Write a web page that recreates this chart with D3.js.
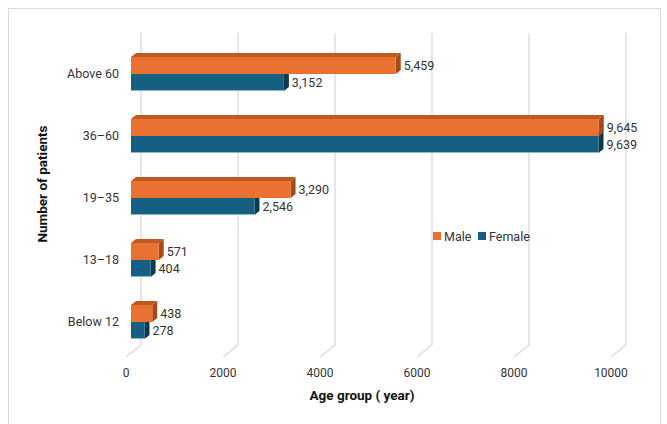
<!DOCTYPE html>
<html>
<head>
<meta charset="utf-8">
<script src="https://cdn.jsdelivr.net/npm/d3@7"></script>
<style>
  body { margin: 0; background: #fff; }
  text { font-family: Roboto, "Open Sans", sans-serif; }
</style>
</head>
<body>
<div id="chart"></div>
<script>
let categories = ["Above 60", "36–60", "19–35", "13–18", "Below 12"];
let male = [5459, 9645, 3290, 571, 438];
let female = [3152, 9639, 2546, 404, 278];
let xTicks = [0, 2000, 4000, 6000, 8000, 10000];

let width = 667,
  height = 424;

let svg = d3
  .select("#chart")
  .append("svg")
  .attr("width", width)
  .attr("height", height);

// chart area border
svg
  .append("rect")
  .attr("x", 8.5)
  .attr("y", 8.5)
  .attr("width", 652)
  .attr("height", 430)
  .attr("fill", "none")
  .attr("stroke", "#d9d9d9");

// back wall scale, floor depth offset
let xScale = d3.scaleLinear().domain([0, 10000]).range([141, 626]);
let depth = { dx: -15, dy: 12 };
let barShift = -10;
let yScale = d3.scaleBand().domain(categories).range([43, 353]);

let wallTop = 33,
  wallBottom = 345;

// gridlines
let grid = svg.append("g").attr("class", "grid");
xTicks.forEach((t) => {
  let x = xScale(t);
  grid
    .append("path")
    .attr(
      "d",
      "M" + x + "," + wallTop + "V" + wallBottom + "l" + depth.dx + "," + depth.dy
    )
    .attr("fill", "none")
    .attr("stroke", "#d9d9d9")
    .attr("stroke-width", 1.3);
});

// tick labels
svg
  .append("g")
  .selectAll("text")
  .data(xTicks)
  .join("text")
  .attr("x", (d) => xScale(d) + depth.dx)
  .attr("y", 377)
  .attr("text-anchor", "middle")
  .style("font-size", "12px")
  .style("fill", "#333")
  .text((d) => d);

// category labels
svg
  .append("g")
  .selectAll("text")
  .data(categories)
  .join("text")
  .attr("x", 119)
  .attr("y", (d) => yScale(d) + yScale.bandwidth() / 2 + 4)
  .attr("text-anchor", "end")
  .style("font-size", "12.5px")
  .style("fill", "#333")
  .text((d) => d);

let barH = 17,
  sx = 5,
  sy = 4;

function bar3d(g, x0, x1, y, fill, topFill, sideFill) {
  g.append("path")
    .attr("d", `M${x0},${y}L${x0 + sx},${y - sy}L${x1 + sx},${y - sy}L${x1},${y}Z`)
    .attr("fill", topFill);
  g.append("path")
    .attr(
      "d",
      `M${x1},${y}L${x1 + sx},${y - sy}L${x1 + sx},${y + barH - sy}L${x1},${y + barH}Z`
    )
    .attr("fill", sideFill);
  g.append("rect")
    .attr("x", x0)
    .attr("y", y)
    .attr("width", x1 - x0)
    .attr("height", barH)
    .attr("fill", fill);
}

let bars = svg.append("g");
let fmt = d3.format(",");

categories.forEach((c, i) => {
  let cy = yScale(c) + yScale.bandwidth() / 2;
  let x0 = xScale(0) + barShift;
  // female below, drawn first
  let xf = xScale(female[i]) + barShift;
  bar3d(bars, x0, xf, cy, "#156082", "#0f4a66", "#0b3a50");
  bars
    .append("line")
    .attr("x1", x0)
    .attr("x2", xf)
    .attr("y1", cy + barH - 0.5)
    .attr("y2", cy + barH - 0.5)
    .attr("stroke", "#8fb6c8")
    .attr("stroke-width", 1);
  let xm = xScale(male[i]) + barShift;
  bar3d(bars, x0, xm, cy - barH, "#E97132", "#c0581f", "#a84a17");

  bars
    .append("text")
    .attr("x", xm + 8)
    .attr("y", cy - barH / 2 + 4.5)
    .style("font-size", "12.5px")
    .style("fill", "#333")
    .text(fmt(male[i]));
  bars
    .append("text")
    .attr("x", xf + 8)
    .attr("y", cy + barH / 2 + 4.5)
    .style("font-size", "12.5px")
    .style("fill", "#333")
    .text(fmt(female[i]));
});

// legend
let legend = svg.append("g").attr("transform", "translate(433,236)");
[
  ["Male", "#E97132"],
  ["Female", "#156082"],
].forEach((d, i) => {
  let lx = i * 45;
  legend
    .append("rect")
    .attr("x", lx)
    .attr("y", -4)
    .attr("width", 8)
    .attr("height", 8)
    .attr("fill", d[1]);
  legend
    .append("text")
    .attr("x", lx + 11)
    .attr("y", 4.5)
    .style("font-size", "12.5px")
    .style("fill", "#333")
    .text(d[0]);
});

// axis titles
svg
  .append("text")
  .attr("transform", "translate(47,184) rotate(-90)")
  .attr("text-anchor", "middle")
  .style("font-size", "13.5px")
  .style("font-weight", "bold")
  .style("fill", "#111")
  .text("Number of patients");

svg
  .append("text")
  .attr("x", 362)
  .attr("y", 400)
  .attr("text-anchor", "middle")
  .style("font-size", "13.5px")
  .style("font-weight", "bold")
  .style("fill", "#111")
  .text("Age group ( year)");
</script>
</body>
</html>
